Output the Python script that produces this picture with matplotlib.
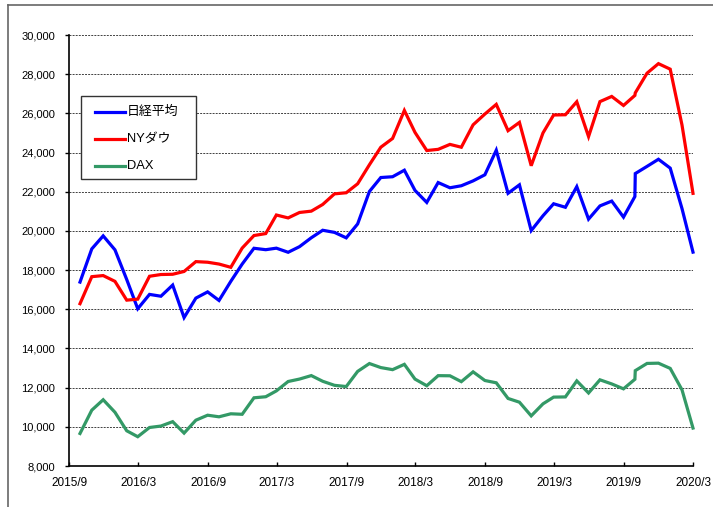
import matplotlib
matplotlib.use("Agg")
import matplotlib.pyplot as plt
from matplotlib.lines import Line2D
from matplotlib.patches import Rectangle
import pandas as pd

# month-end closes 2015/9 .. 2019/9, then 2019/10 .. 2020/3 dated on the 1st
dates = list(pd.date_range("2015-09-30", "2019-09-30", freq="ME")) + \
    list(pd.date_range("2019-10-01", "2020-03-01", freq="MS"))

nikkei = [17388, 19083, 19747, 19034, 17518, 16027, 16759, 16666, 17235, 15576,
          16569, 16887, 16450, 17425, 18308, 19114, 19041, 19119, 18909, 19197,
          19651, 20033, 19925, 19646, 20356, 22012, 22725, 22765, 23098, 22068,
          21454, 22468, 22202, 22305, 22554, 22865, 24120, 21920, 22351, 20015,
          20773, 21385, 21206, 22259, 20601, 21276, 21522, 20704, 21756, 22927,
          23294, 23657, 23205, 21143, 18917]
dow = [16285, 17664, 17720, 17425, 16466, 16517, 17685, 17774, 17787, 17930,
       18432, 18401, 18308, 18142, 19124, 19763, 19864, 20812, 20663, 20941,
       21009, 21350, 21891, 21948, 22405, 23377, 24272, 24719, 26149, 25029,
       24103, 24163, 24416, 24271, 25415, 25965, 26458, 25116, 25538, 23327,
       25000, 25916, 25929, 26593, 24815, 26600, 26864, 26403, 26917, 27046,
       28051, 28538, 28256, 25409, 21917]
dax = [9660, 10850, 11382, 10743, 9798, 9495, 9966, 10039, 10263, 9680,
       10338, 10593, 10511, 10665, 10640, 11481, 11535, 11834, 12313, 12438,
       12615, 12325, 12118, 12056, 12829, 13230, 13024, 12918, 13189, 12436,
       12097, 12612, 12605, 12306, 12806, 12364, 12247, 11448, 11257, 10559,
       11173, 11516, 11526, 12344, 11727, 12399, 12189, 11939, 12428, 12867,
       13236, 13249, 12982, 11890, 9936]

labels = ["日経平均", "NYダウ", "DAX"]
colors = ["#0000ff", "#ff0000", "#339966"]
tick_dates = ["2015-09-01", "2016-03-01", "2016-09-01", "2017-03-01", "2017-09-01",
              "2018-03-01", "2018-09-01", "2019-03-01", "2019-09-01", "2020-03-01"]
tick_labels = ["2015/9", "2016/3", "2016/9", "2017/3", "2017/9",
               "2018/3", "2018/9", "2019/3", "2019/9", "2020/3"]

plt.rcParams["font.family"] = ["Liberation Sans", "Noto Sans CJK JP", "DejaVu Sans"]

W, H = 713, 507
fig = plt.figure(figsize=(W / 100, H / 100), dpi=100, facecolor="white")
ax = fig.add_axes([69 / W, 1 - 466 / H, 624 / W, 431 / H])

for y, c in zip([nikkei, dow, dax], colors):
    ax.plot(dates, y, color=c, lw=2.3, clip_on=False,
            solid_joinstyle="miter", zorder=3)

ax.set_xlim(pd.Timestamp("2015-09-01"), pd.Timestamp("2020-03-01"))
ax.set_ylim(8000, 30000)
ax.set_yticks(range(8000, 30001, 2000))
ax.yaxis.set_major_formatter(matplotlib.ticker.StrMethodFormatter("{x:,.0f}"))
ax.set_xticks([pd.Timestamp(d) for d in tick_dates])
ax.set_xticklabels(tick_labels)

ax.grid(axis="y", color="#404040", lw=0.7, linestyle=(0, (2, 1.2)), zorder=1)
for s in ["top", "right"]:
    ax.spines[s].set_visible(False)
for s in ["left", "bottom"]:
    ax.spines[s].set_linewidth(1.2)
    ax.spines[s].set_color("black")

ax.tick_params(axis="y", direction="out", length=3, width=1, pad=7,
               labelsize=8, colors="black")
ax.tick_params(axis="x", direction="in", length=3, width=1, pad=8,
               labelsize=8.5, colors="black")

# legend box drawn in pixel positions of the reference
def fx(px):
    return px / W


def fy(py):
    return 1 - py / H


fig.add_artist(Rectangle((fx(81), fy(179)), fx(196) - fx(81), fy(96) - fy(179),
                         transform=fig.transFigure, facecolor="white",
                         edgecolor="#333333", lw=1.0, zorder=5))
for i, (lab, c) in enumerate(zip(labels, colors)):
    yy = 112 + 27 * i
    fig.add_artist(Line2D([fx(95), fx(125)], [fy(yy), fy(yy)], transform=fig.transFigure,
                          color=c, lw=2.3, zorder=6))
    fig.text(fx(127), fy(yy), lab, fontsize=9.3, va="center", ha="left", zorder=6)

# outer chart border
fig.add_artist(Line2D([fx(8), fx(8)], [0, fy(5)], transform=fig.transFigure,
                      color="#666666", lw=1.2))
fig.add_artist(Line2D([fx(8), 1], [fy(5), fy(5)], transform=fig.transFigure,
                      color="#666666", lw=1.2))

fig.savefig("out.png", dpi=100)
